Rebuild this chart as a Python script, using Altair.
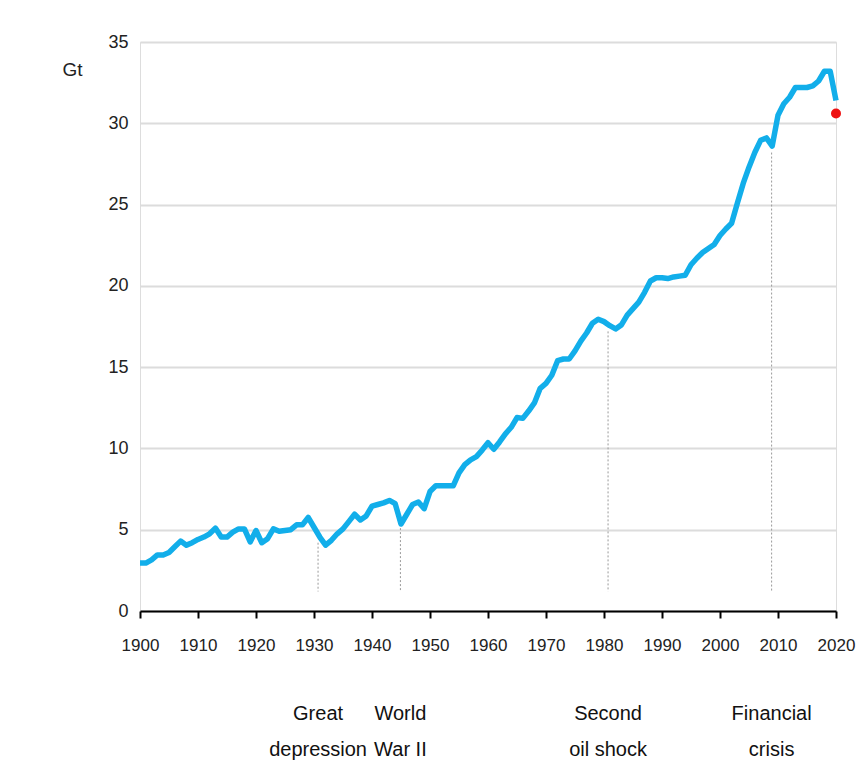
import altair as alt
import pandas as pd

years = list(range(1900, 2021))
emissions = [
    2.95, 2.95, 3.15, 3.45, 3.45, 3.6, 3.95, 4.3, 4.05, 4.2,
    4.4, 4.55, 4.75, 5.1, 4.55, 4.55, 4.85, 5.05, 5.05, 4.25,
    4.95, 4.2, 4.45, 5.05, 4.9, 4.95, 5.0, 5.3, 5.3, 5.75,
    5.15, 4.55, 4.05, 4.35, 4.75, 5.05, 5.5, 5.95, 5.6, 5.85,
    6.45, 6.55, 6.65, 6.8, 6.6, 5.35, 5.95, 6.55, 6.7, 6.3,
    7.35, 7.7, 7.7, 7.7, 7.7, 8.5, 9.0, 9.3, 9.5, 9.9,
    10.35, 9.95, 10.4, 10.9, 11.3, 11.9, 11.85, 12.3, 12.8, 13.7,
    14.0, 14.5, 15.4, 15.5, 15.5, 16.0, 16.6, 17.1, 17.7, 17.95,
    17.8, 17.55, 17.35, 17.6, 18.2, 18.6, 19.0, 19.6, 20.3, 20.5,
    20.5, 20.45, 20.55, 20.6, 20.65, 21.3, 21.7, 22.05, 22.3, 22.55,
    23.1, 23.5, 23.85, 25.1, 26.3, 27.3, 28.2, 28.95, 29.1, 28.6,
    30.5, 31.2, 31.6, 32.2, 32.2, 32.2, 32.3, 32.6, 33.2, 33.2,
    31.4,
]

dot_year = [2020]
dot_value = [30.6]

event_years = [1930.7, 1944.9, 1980.7, 2008.9]
event_tops = [4.2, 5.1, 17.2, 28.2]
event_bottom = [1.2, 1.2, 1.2, 1.2]
event_labels = ["Great\ndepression", "World\nWar II", "Second\noil shock", "Financial\ncrisis"]

x_ticks = list(range(1900, 2021, 10))
y_ticks = list(range(0, 36, 5))

FONT = "Liberation Sans Narrow, Arial Narrow, Liberation Sans, Arial, sans-serif"

df = pd.DataFrame({"year": years, "value": emissions})
dot_df = pd.DataFrame({"year": dot_year, "value": dot_value})
ev_df = pd.DataFrame({"year": event_years, "top": event_tops,
                      "bottom": event_bottom, "label": event_labels})

x_scale = alt.Scale(domain=[1900, 2020], nice=False, zero=False)
y_scale = alt.Scale(domain=[0, 35], nice=False)

x_enc = alt.X("year:Q", scale=x_scale,
              axis=alt.Axis(values=x_ticks, format="d", title=None, grid=False,
                            domainColor="#000000", domainWidth=2,
                            tickColor="#000000", tickWidth=2, tickSize=7,
                            labelFontSize=17, labelFont=FONT, labelColor="#222222",
                            labelPadding=19, labelFlush=False))
y_enc = alt.Y("value:Q", scale=y_scale,
              axis=alt.Axis(values=y_ticks, title="Gt", titleAngle=0,
                            titleX=-78, titleY=27, titleAlign="left",
                            titleBaseline="middle", titleFontSize=19,
                            titleFont=FONT, titleFontWeight="normal",
                            titleColor="#222222",
                            domain=False, ticks=False, grid=True,
                            gridColor="#dcdcdc", gridWidth=2,
                            labelFontSize=18, labelFont=FONT, labelColor="#222222",
                            labelPadding=12))

rules = alt.Chart(ev_df).mark_rule(color="#999999", strokeDash=[2, 2], strokeWidth=1).encode(
    x=alt.X("year:Q", scale=x_scale),
    y=alt.Y("top:Q", scale=y_scale),
    y2="bottom:Q",
)

line = alt.Chart(df).mark_line(color="#12aeea", strokeWidth=5.5, strokeJoin="round").encode(
    x=x_enc, y=y_enc,
)

dot = alt.Chart(dot_df).mark_circle(color="#ee1111", opacity=1, size=100).encode(
    x=alt.X("year:Q", scale=x_scale),
    y=alt.Y("value:Q", scale=y_scale),
)

labels = alt.Chart(ev_df).mark_text(
    font=FONT, fontSize=20, color="#111111", align="center",
    baseline="alphabetic", lineHeight=36, lineBreak="\n",
).encode(
    x=alt.X("year:Q", scale=x_scale),
    y=alt.value(678),
    text="label:N",
)

chart = alt.layer(rules, line, dot, labels).properties(
    width=696, height=569,
    autosize=alt.AutoSizeParams(type="none"),
    padding={"left": 132, "top": 34, "right": 20, "bottom": 150},
).configure_view(stroke=None).configure(background="#ffffff")

chart.save("out.html", embed_options={"renderer": "svg", "actions": False})
